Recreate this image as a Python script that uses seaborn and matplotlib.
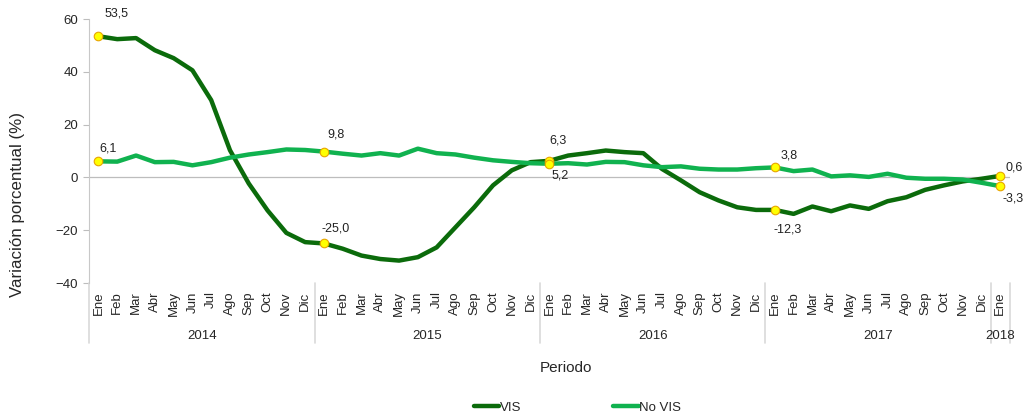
import numpy as np
import pandas as pd
import seaborn as sns
import matplotlib.pyplot as plt
from matplotlib import transforms

# data (variacion anual, %)
months = ['Ene', 'Feb', 'Mar', 'Abr', 'May', 'Jun', 'Jul', 'Ago', 'Sep', 'Oct', 'Nov', 'Dic']
years = ['2014', '2015', '2016', '2017', '2018']

vis = [53.5, 52.4, 52.8, 48.2, 45.2, 40.6, 29.3, 10.3, -2.3, -12.5, -21.0, -24.5,
       -25.0, -27.0, -29.6, -30.9, -31.5, -30.2, -26.5, -18.9, -11.3, -3.0, 2.7, 5.8,
       6.3, 8.3, 9.2, 10.2, 9.6, 9.2, 3.2, -1.1, -5.6, -8.7, -11.3, -12.3,
       -12.3, -13.8, -11.0, -12.8, -10.6, -11.9, -9.0, -7.5, -4.7, -3.0, -1.5, -0.5,
       0.6]
no_vis = [6.1, 6.0, 8.3, 5.8, 5.9, 4.6, 5.8, 7.5, 8.7, 9.6, 10.6, 10.4,
          9.8, 9.0, 8.3, 9.2, 8.3, 10.9, 9.2, 8.7, 7.5, 6.5, 5.9, 5.4,
          5.2, 5.4, 4.9, 5.9, 5.8, 4.6, 3.9, 4.2, 3.3, 3.0, 3.0, 3.5,
          3.8, 2.4, 3.0, 0.4, 0.8, 0.2, 1.4, -0.1, -0.5, -0.5, -0.8, -2.0,
          -3.3]

month_labels = months * 4 + ['Ene']
year_of = [y for y in years[:4] for _ in range(12)] + [years[4]]

df = pd.DataFrame({
    'idx': list(range(len(vis))) * 2,
    'valor': vis + no_vis,
    'serie': ['VIS'] * len(vis) + ['No VIS'] * len(no_vis),
})

sns.set_style('white')
plt.rcParams['font.family'] = ['Liberation Sans', 'DejaVu Sans']

fig = plt.figure(figsize=(10.24, 4.15), dpi=100)
ax = fig.add_axes([0.087, 0.318, 0.899, 0.636])

pal = {'VIS': '#0b6b0b', 'No VIS': '#10b24f'}
sns.lineplot(data=df, x='idx', y='valor', hue='serie', palette=pal,
             linewidth=3.2, ax=ax, legend=True)

ax.axhline(0, color='#bdbdbd', lw=0.9, zorder=0)

# highlighted points (January of each year)
key = [0, 12, 24, 36, 48]
for series in (vis, no_vis):
    ax.scatter(key, [series[i] for i in key], s=38, color='#ffff00',
               edgecolor='#e8a400', linewidth=0.8, zorder=5)

def fmt(v):
    return f'{v:.1f}'.replace('.', ',')

vis_off = {0: (6, 23), 12: (-2, 15), 24: (0, 20), 36: (-1, -20), 48: (5, 8)}
novis_off = {0: (1, 13), 12: (3, 17), 24: (2, -12), 36: (6, 12), 48: (2, -12)}
for series, offs in ((vis, vis_off), (no_vis, novis_off)):
    for i, (dx, dy) in offs.items():
        ax.annotate(fmt(series[i]), (i, series[i]), xytext=(dx, dy),
                    textcoords='offset pixels', ha='left', va='center',
                    fontsize=9, color='#222222')

ax.set_xlim(-0.5, len(vis) - 0.5)
ax.set_ylim(-40, 60)
ax.set_yticks(range(-40, 61, 20))
ax.set_xticks(range(len(vis)))
ax.set_xticklabels(month_labels, rotation=90, fontsize=9.5)
ax.tick_params(axis='x', length=0, pad=6)
ax.tick_params(axis='y', length=4, color='#bdbdbd', labelsize=9.5, pad=4, left=True)
for s in ['top', 'right', 'bottom']:
    ax.spines[s].set_visible(False)
ax.spines['left'].set_color('#c8c8c8')
ax.set_xlabel('')
ax.set_ylabel('')

# year groups under the month labels
trans = transforms.blended_transform_factory(ax.transData, ax.transAxes)
bounds = [-0.5, 11.5, 23.5, 35.5, 47.5, 48.5]
for b in bounds:
    ax.plot([b, b], [0, -0.227], transform=trans, color='#d9d9d9', lw=1.2, clip_on=False)
for k, y in enumerate(years):
    idxs = [i for i, yy in enumerate(year_of) if yy == y]
    ax.text(np.mean(idxs), -0.2, y, transform=trans, ha='center', va='center', fontsize=9.5)

fig.text(18 / 1024, 1 - 204 / 415, 'Variación porcentual (%)', rotation=90,
         ha='center', va='center', fontsize=12.2)
fig.text(566 / 1024, 1 - 368 / 415, 'Periodo', ha='center', va='center', fontsize=11)

handles, labels = ax.get_legend_handles_labels()
ax.get_legend().remove()
fig.legend(handles, labels, loc='center', bbox_to_anchor=(0.564, 0.017), ncol=2,
           frameon=False, fontsize=9.5, handlelength=1.9, handletextpad=0.05,
           columnspacing=7.0)

fig.savefig('out.png', dpi=100)
